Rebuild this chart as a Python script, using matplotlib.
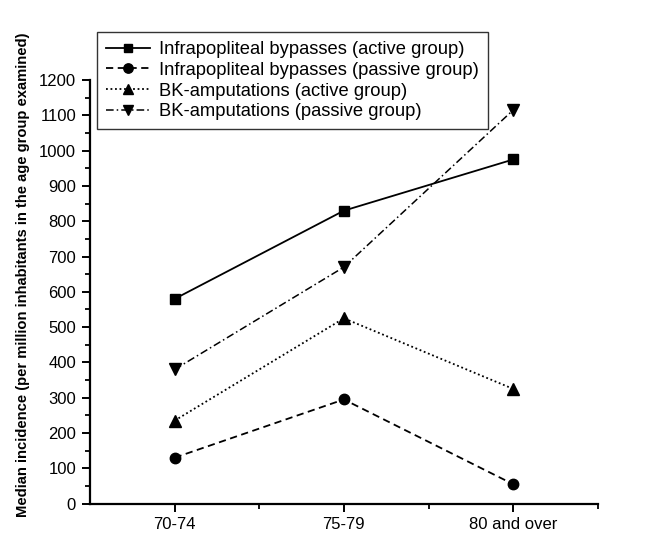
import matplotlib
matplotlib.use("Agg")
import matplotlib.pyplot as plt
from matplotlib.ticker import MultipleLocator, FixedLocator

plt.rcParams['font.family'] = ['Liberation Sans', 'DejaVu Sans']

# data
age_groups = ['70-74', '75-79', '80 and over']
bypass_active = [580, 830, 975]
bypass_passive = [130, 295, 55]
amput_active = [235, 525, 325]
amput_passive = [380, 670, 1115]

fig = plt.figure(figsize=(6.54, 5.34), dpi=100)
ax = fig.add_axes([0.1376, 0.057, 0.7764, 0.793])

x = [1, 2, 3]
ax.plot(x, bypass_active, color='black', lw=1.3, ls='-', marker='s', ms=7,
        label='Infrapopliteal bypasses (active group)')
ax.plot(x, bypass_passive, color='black', lw=1.3, ls=(0, (4, 2.5)), marker='o', ms=7.5,
        label='Infrapopliteal bypasses (passive group)')
ax.plot(x, amput_active, color='black', lw=1.3, ls=(0, (1, 1.5)), marker='^', ms=8,
        label='BK-amputations (active group)')
ax.plot(x, amput_passive, color='black', lw=1.1, ls=(0, (5, 2, 1, 2)), marker='v', ms=8,
        label='BK-amputations (passive group)')

ax.set_xlim(0.5, 3.5)
ax.set_ylim(0, 1200)
ax.xaxis.set_major_locator(FixedLocator(x))
ax.set_xticklabels(age_groups)
ax.xaxis.set_minor_locator(FixedLocator([1.5, 2.5, 3.5]))
ax.yaxis.set_major_locator(MultipleLocator(100))
ax.yaxis.set_minor_locator(MultipleLocator(50))

for side in ['top', 'right']:
    ax.spines[side].set_visible(False)
for side in ['left', 'bottom']:
    ax.spines[side].set_linewidth(1.6)

ax.tick_params(which='major', direction='out', length=6, width=1.4, labelsize=12, pad=4)
ax.tick_params(which='minor', direction='out', length=3.5, width=1.3)
ax.tick_params(axis='x', which='major', pad=4)

ax.set_ylabel('Median incidence (per million inhabitants in the age group examined)',
              fontsize=10.6, fontweight='bold')
ax.yaxis.set_label_coords(-0.118, 0.54)

leg = ax.legend(loc='upper left', bbox_to_anchor=(0.148, 0.94),
                bbox_transform=fig.transFigure, fontsize=13.25, frameon=True,
                fancybox=False, edgecolor='black', handlelength=2.4,
                handletextpad=0.5, borderpad=0.5, labelspacing=0.2,
                borderaxespad=0, markerscale=0.9)
leg.get_frame().set_linewidth(1.0)

fig.savefig('out.png', dpi=100)
